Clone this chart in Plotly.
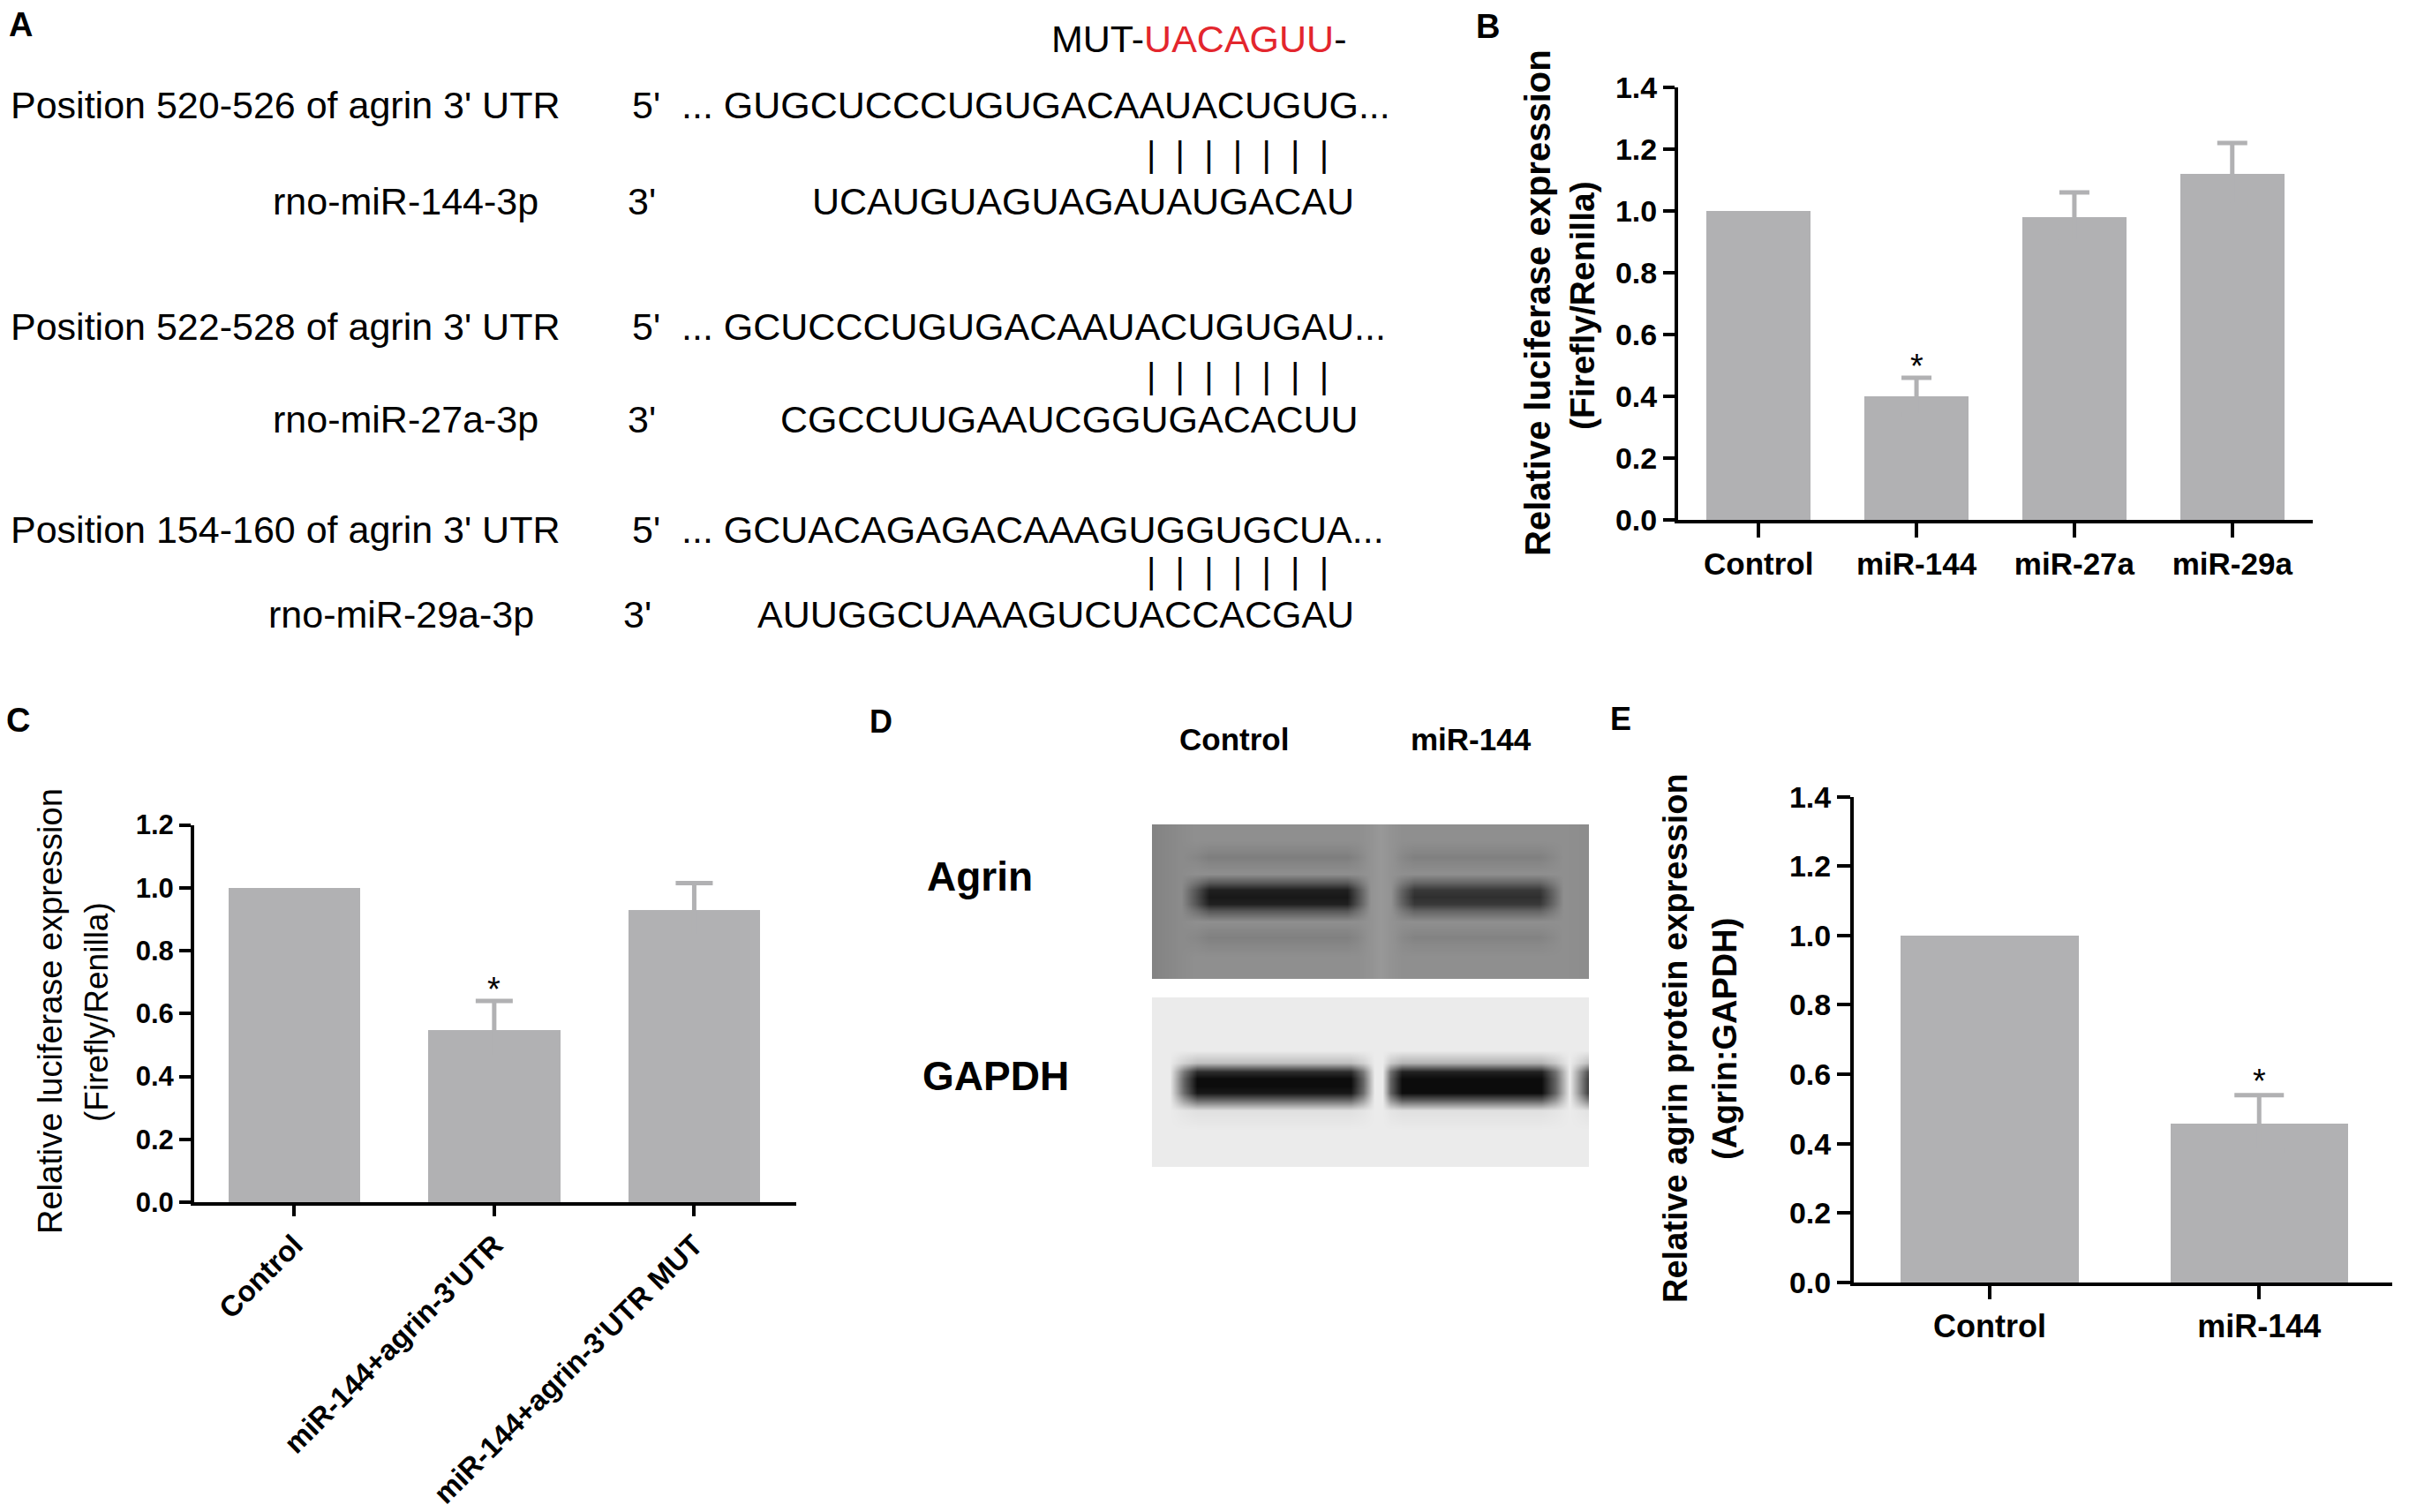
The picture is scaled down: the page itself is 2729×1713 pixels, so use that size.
import plotly.graph_objects as go

W, H = 2729, 1713
FONT = "Liberation Sans, Arial, Helvetica, sans-serif"
BAR = "#b1b1b3"
RED = "#e3262d"

# ---------------- data ----------------
# Panel B
b_cats = ["Control", "miR-144", "miR-27a", "miR-29a"]
b_vals = [1.00, 0.40, 0.98, 1.12]
b_err = [None, 0.06, 0.08, 0.10]
b_sig = [False, True, False, False]
b_yticks = [0.0, 0.2, 0.4, 0.6, 0.8, 1.0, 1.2, 1.4]

# Panel C
c_cats = ["Control", "miR-144+agrin-3'UTR", "miR-144+agrin-3'UTR MUT"]
c_vals = [1.00, 0.55, 0.93]
c_err = [None, 0.09, 0.085]
c_sig = [False, True, False]
c_yticks = [0.0, 0.2, 0.4, 0.6, 0.8, 1.0, 1.2]

# Panel E
e_cats = ["Control", "miR-144"]
e_vals = [1.00, 0.46]
e_err = [None, 0.08]
e_sig = [False, True]
e_yticks = [0.0, 0.2, 0.4, 0.6, 0.8, 1.0, 1.2, 1.4]

# Panel D (western blot band darkness, lanes: Control, miR-144)
blot_lanes = ["Control", "miR-144"]
agrin_x = [0.35, 0.50, 0.57, 0.64, 1.0, 1.34, 1.40, 1.46, 1.51, 1.56, 1.62, 1.68, 2.0, 2.32, 2.38, 2.44, 2.57]
agrin_bg = [0.10, 0.03, 0, 0, 0, 0, 0, -0.04, -0.09, -0.04, 0, 0, 0, 0, 0, 0, 0.02]
agrin_ctrl_lane = [0, 0, 0.5, 1, 1, 1, 0.5, 0, 0, 0, 0, 0, 0, 0, 0, 0, 0]
agrin_mir_lane = [0, 0, 0, 0, 0, 0, 0, 0, 0, 0, 0.5, 1, 1, 1, 0.5, 0, 0]
agrin_y = [0, 18, 30, 37, 44, 56, 66, 74, 82, 90, 98, 110, 120, 128, 136, 150, 175]
agrin_ctrl = [0, 0, 0.08, 0.14, 0.08, 0, 0.45, 0.9, 0.97, 0.9, 0.45, 0, 0.07, 0.12, 0.07, 0, 0]
agrin_mir = [0, 0, 0.07, 0.12, 0.07, 0, 0.35, 0.7, 0.78, 0.7, 0.35, 0, 0.05, 0.10, 0.05, 0, 0]

gapdh_x = [0.35, 0.44, 0.51, 0.58, 1.0, 1.36, 1.42, 1.48, 1.52, 1.56, 1.62, 1.69, 2.0, 2.33, 2.40, 2.47, 2.57]
gapdh_ctrl_lane = [0, 0, 0.6, 1, 1, 1, 0.6, 0, 0, 0, 0, 0, 0, 0, 0, 0, 0]
gapdh_mir_lane = [0, 0, 0, 0, 0, 0, 0, 0, 0, 0.6, 1, 1, 1, 1, 0.6, 0, 0]
gapdh_edge_lane = [0, 0, 0, 0, 0, 0, 0, 0, 0, 0, 0, 0, 0, 0, 0, 0, 0.8]
gapdh_y = [0, 60, 74, 84, 92, 100, 108, 116, 128, 150, 192]
gapdh_ctrl = [0, 0, 0.2, 0.85, 1.0, 1.0, 0.95, 0.6, 0.05, 0, 0]
gapdh_mir = [0, 0, 0.25, 0.9, 1.0, 1.0, 1.0, 0.65, 0.05, 0, 0]

# Panel A (sequence alignment text)
a_site_labels = ["Position 520-526 of agrin 3' UTR",
                 "Position 522-528 of agrin 3' UTR",
                 "Position 154-160 of agrin 3' UTR"]
a_utr_seqs = ["... GUGCUCCCUGUGACAAUACUGUG...",
              "... GCUCCCUGUGACAAUACUGUGAU...",
              "... GCUACAGAGACAAAGUGGUGCUA..."]
a_mirnas = ["rno-miR-144-3p", "rno-miR-27a-3p", "rno-miR-29a-3p"]
a_mir_seqs = ["UCAUGUAGUAGAUAUGACAU",
              "CGCCUUGAAUCGGUGACACUU",
              "AUUGGCUAAAGUCUACCACGAU"]
a_mut_seq = "UACAGUU"


# ---------------- helpers ----------------
def px(x):
    return x / W


def py(y):
    return 1 - y / H


annotations = []


def ann(text, x, y, size, bold=False, xanchor="center", yanchor="middle",
        angle=0, color="black"):
    annotations.append(dict(
        text=text, x=px(x), y=py(y), xref="paper", yref="paper",
        xanchor=xanchor, yanchor=yanchor, textangle=angle, showarrow=False,
        font=dict(family=FONT, size=size, color=color,
                  weight="bold" if bold else "normal")))


fig = go.Figure()


def bar_panel(idx, cats, vals, errs, sig, yticks, xdom_px, ydom_px, xrange,
              tick_size, xlab_size, xlab_angle, ytick_len, xtick_len, errw):
    xa = "x" if idx == 1 else f"x{idx}"
    ya = "y" if idx == 1 else f"y{idx}"
    fig.add_trace(go.Bar(
        x=cats, y=vals, xaxis=xa, yaxis=ya, width=0.66,
        marker=dict(color=BAR, line=dict(width=0)),
        showlegend=False, hoverinfo="skip"))
    ex = [c for c, e in zip(cats, errs) if e is not None]
    ey = [v for v, e in zip(vals, errs) if e is not None]
    ee = [e for e in errs if e is not None]
    fig.add_trace(go.Scatter(
        x=ex, y=ey, xaxis=xa, yaxis=ya, mode="markers",
        marker=dict(size=1, color=BAR, opacity=0),
        error_y=dict(type="data", array=ee, symmetric=True, color=BAR,
                     thickness=5, width=errw),
        showlegend=False, hoverinfo="skip"))
    axis_common = dict(showline=True, linewidth=4, linecolor="black",
                       ticks="outside", tickwidth=4, tickcolor="black",
                       showgrid=False, zeroline=False, automargin=False,
                       fixedrange=True)
    xkey = "xaxis" if idx == 1 else f"xaxis{idx}"
    ykey = "yaxis" if idx == 1 else f"yaxis{idx}"
    fig.update_layout(**{
        xkey: dict(domain=[px(xdom_px[0]), px(xdom_px[1])], anchor=ya,
                   type="category", range=xrange, ticklen=xtick_len,
                   tickangle=xlab_angle,
                   tickfont=dict(family=FONT, size=xlab_size, color="black",
                                 weight="bold"),
                   **axis_common),
        ykey: dict(domain=[py(ydom_px[1]), py(ydom_px[0])], anchor=xa,
                   range=[yticks[0], yticks[-1]], tickvals=yticks,
                   ticktext=[f"{t:.1f}" for t in yticks], ticklen=ytick_len,
                   tickfont=dict(family=FONT, size=tick_size, color="black",
                                 weight="bold"),
                   **axis_common),
    })
    for c, v, e, s in zip(cats, vals, errs, sig):
        if s:
            annotations.append(dict(
                text="*", x=c, y=v + (e or 0) + 0.06, xref=xa, yref=ya,
                showarrow=False, xanchor="center", yanchor="middle", yshift=-8,
                font=dict(family=FONT, size=38, color="black")))


# Panel B
bar_panel(1, b_cats, b_vals, b_err, b_sig, b_yticks,
          (1901, 2620), (99, 589), [-0.51, 3.51], 34, 35, 0, 13, 16, 17)
# Panel C
bar_panel(2, c_cats, c_vals, c_err, c_sig, c_yticks,
          (220, 902), (934.5, 1362), [-0.5, 2.51], 31, 33, -45, 13, 12, 21)
# Panel E
bar_panel(3, e_cats, e_vals, e_err, e_sig, e_yticks,
          (2100, 2710), (902.6, 1453), [-0.505, 1.494], 34, 36, 0, 15, 15, 28)

# Panel D: western blot images rendered as heatmaps
agrin_z = [[bg + r_c * mc + r_m * mm
            for bg, mc, mm in zip(agrin_bg, agrin_ctrl_lane, agrin_mir_lane)]
           for r_c, r_m in zip(agrin_ctrl, agrin_mir)]
gapdh_z = [[r_c * mc + r_m * (mm + me)
            for mc, mm, me in zip(gapdh_ctrl_lane, gapdh_mir_lane, gapdh_edge_lane)]
           for r_c, r_m in zip(gapdh_ctrl, gapdh_mir)]

fig.add_trace(go.Heatmap(x=agrin_x, y=agrin_y, z=agrin_z, xaxis="x4", yaxis="y4",
                         zmin=-0.2, zmax=1, zsmooth="best", showscale=False,
                         colorscale=[[0, "#a3a3a3"], [0.1667, "#8f8f8f"],
                                     [1, "#141414"]],
                         hoverinfo="skip"))
fig.add_trace(go.Heatmap(x=gapdh_x, y=gapdh_y, z=gapdh_z, xaxis="x5", yaxis="y5",
                         zmin=0, zmax=1, zsmooth="best", showscale=False,
                         colorscale=[[0, "#ebebeb"], [1, "#0c0c0c"]],
                         hoverinfo="skip"))
hidden = dict(visible=False, showgrid=False, zeroline=False, automargin=False,
              fixedrange=True)
fig.update_layout(
    xaxis4=dict(domain=[px(1305), px(1800)], anchor="y4", range=[0.35, 2.57], **hidden),
    yaxis4=dict(domain=[py(1109), py(934)], anchor="x4", range=[175, 0], **hidden),
    xaxis5=dict(domain=[px(1305), px(1800)], anchor="y5", range=[0.35, 2.57], **hidden),
    yaxis5=dict(domain=[py(1322), py(1130)], anchor="x5", range=[192, 0], **hidden),
)

# Axis titles
ann("Relative luciferase expression", 1742, 343, 40, bold=True, angle=-90)
ann("(Firefly/Renilla)", 1792, 346, 39, bold=True, angle=-90)
ann("Relative luciferase expression", 57, 1146, 38, angle=-90)
ann("(Firefly/Renilla)", 109, 1147, 37, angle=-90)
ann("Relative agrin protein expression", 1898, 1176, 38, bold=True, angle=-90)
ann("(Agrin:GAPDH)", 1954, 1177, 38, bold=True, angle=-90)

# Panel letters
ann("A", 23, 28, 38, bold=True)
ann("B", 1685, 30, 38, bold=True)
ann("C", 20, 816, 38, bold=True)
ann("D", 998, 817, 36, bold=True)
ann("E", 1836, 814, 36, bold=True)

# Panel D labels
ann(blot_lanes[0], 1398, 838, 35, bold=True)
ann(blot_lanes[1], 1666, 838, 35, bold=True)
ann("Agrin", 1110, 993, 46, bold=True)
ann("GAPDH", 1128, 1219, 46, bold=True)

# Panel A
ann(f"MUT-<span style='color:{RED}'>{a_mut_seq}</span>-", 1189, 44, 43,
    xanchor="left")
row_y = [119, 370, 600]
pipe_y = [175, 426, 647]
mir_y = [228, 475, 696]
mir_label_right = [612, 612, 607]
mir_seq_right = [1536, 1541, 1536]
prime3_x = [709, 709, 704]
for i in range(3):
    ann(a_site_labels[i], 10, row_y[i], 43, xanchor="left")
    ann("5'", 714, row_y[i], 43, xanchor="left")
    ann(a_utr_seqs[i], 770, row_y[i], 43, xanchor="left")
    ann("|  |  |  |  |  |  |", 1402, pipe_y[i], 40)
    ann(a_mirnas[i], mir_label_right[i], mir_y[i], 43, xanchor="right")
    ann("3'", prime3_x[i], mir_y[i], 43, xanchor="left")
    ann(a_mir_seqs[i], mir_seq_right[i], mir_y[i], 43, xanchor="right")

fig.update_layout(
    width=W, height=H, autosize=False,
    margin=dict(l=0, r=0, t=0, b=0, pad=0, autoexpand=False),
    paper_bgcolor="white", plot_bgcolor="white",
    font=dict(family=FONT, color="black"),
    annotations=annotations, showlegend=False, bargap=0,
)

fig.write_html("out.html",
               config={"displayModeBar": False, "responsive": False},
               post_script="document.body.style.margin='0px';"
                           "document.body.style.overflow='hidden';")
